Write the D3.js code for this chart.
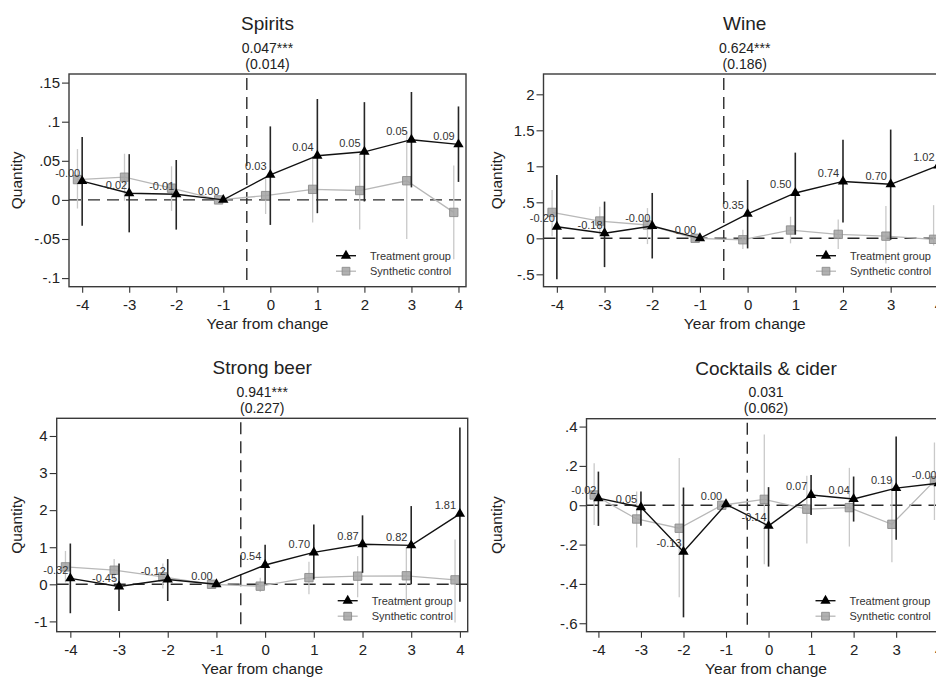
<!DOCTYPE html>
<html>
<head>
<meta charset="utf-8">
<script src="https://cdn.jsdelivr.net/npm/d3@7"></script>
<style>
  body { margin: 0; background: #fff; }
  svg { display: block; font-family: "Liberation Sans", Arial, Helvetica, sans-serif; }
</style>
</head>
<body>
<svg id="chart" width="936" height="677"></svg>
<script>
// Event-study estimates: treatment group vs synthetic control, by beverage type
const years = [-4, -3, -2, -1, 0, 1, 2, 3, 4];

const panelTitles = ["Spirits", "Wine", "Strong beer", "Cocktails & cider"];
const panelEstimates = ["0.047***", "0.624***", "0.941***", "0.031"];
const panelStdErrors = ["(0.014)", "(0.186)", "(0.227)", "(0.062)"];

// Spirits
const spiritsTreat   = [0.024, 0.0085, 0.0072, 0, 0.032, 0.0565, 0.0615, 0.077, 0.071];
const spiritsTreatLo = [-0.033, -0.0415, -0.038, 0, -0.032, -0.017, -0.002, 0.016, 0.023];
const spiritsTreatHi = [0.0805, 0.0585, 0.051, 0, 0.094, 0.129, 0.125, 0.138, 0.1195];
const spiritsSynth   = [0.026, 0.029, 0.015, 0, 0.0055, 0.0135, 0.012, 0.0245, -0.016];
const spiritsSynthLo = [-0.011, -0.001, -0.014, 0, -0.018, -0.029, -0.038, -0.05, -0.076];
const spiritsSynthHi = [0.065, 0.059, 0.043, 0, 0.029, 0.056, 0.062, 0.087, 0.044];
const spiritsLabels  = ["-0.00", "-0.02", "-0.01", "0.00", "0.03", "0.04", "0.05", "0.05", "0.09"];
const spiritsYTicks  = [-0.1, -0.05, 0, 0.05, 0.1, 0.15];
const spiritsYTickLabels = ["-.1", "-.05", "0", ".05", ".1", ".15"];

// Wine
const wineTreat   = [0.16, 0.07, 0.17, 0, 0.34, 0.63, 0.79, 0.75, 1.01];
const wineTreatLo = [-0.57, -0.40, -0.28, 0, -0.14, 0.05, 0.22, -0.02, 0.40];
const wineTreatHi = [0.88, 0.51, 0.63, 0, 0.81, 1.19, 1.37, 1.51, 1.62];
const wineSynth   = [0.36, 0.24, 0.185, 0, -0.02, 0.115, 0.055, 0.03, -0.014];
const wineSynthLo = [0.03, 0.04, -0.08, 0, -0.15, -0.07, -0.15, -0.35, -0.10];
const wineSynthHi = [0.67, 0.44, 0.42, 0, 0.12, 0.30, 0.26, 0.45, 0.46];
const wineLabels  = ["-0.20", "-0.18", "-0.00", "0.00", "0.35", "0.50", "0.74", "0.70", "1.02"];
const wineYTicks  = [-0.5, 0, 0.5, 1, 1.5, 2];
const wineYTickLabels = ["-.5", "0", ".5", "1", "1.5", "2"];

// Strong beer
const beerTreat   = [0.16, -0.06, 0.13, 0, 0.52, 0.86, 1.08, 1.05, 1.90];
const beerTreatLo = [-0.78, -0.72, -0.45, 0, 0.0, 0.13, 0.31, 0.0, -0.47];
const beerTreatHi = [1.10, 0.56, 0.68, 0, 1.07, 1.61, 1.86, 2.11, 4.23];
const beerSynth   = [0.47, 0.38, 0.20, 0, -0.05, 0.18, 0.22, 0.23, 0.12];
const beerSynthLo = [0.05, 0.08, -0.11, 0, -0.21, -0.27, -0.35, -0.58, -1.03];
const beerSynthHi = [0.90, 0.68, 0.56, 0, 0.18, 0.61, 0.76, 1.01, 1.21];
const beerLabels  = ["-0.32", "-0.45", "-0.12", "0.00", "0.54", "0.70", "0.87", "0.82", "1.81"];
const beerYTicks  = [-1, 0, 1, 2, 3, 4];
const beerYTickLabels = ["-1", "0", "1", "2", "3", "4"];

// Cocktails & cider
const cocktailTreat   = [0.036, -0.010, -0.236, 0.005, -0.105, 0.052, 0.032, 0.087, 0.112];
const cocktailTreatLo = [-0.105, -0.104, -0.57, 0.005, -0.312, -0.05, -0.083, -0.176, -0.05];
const cocktailTreatHi = [0.171, 0.07, 0.09, 0.005, 0.092, 0.154, 0.146, 0.35, 0.30];
const cocktailSynth   = [0.052, -0.07, -0.117, 0, 0.03, -0.02, -0.012, -0.097, 0.124];
const cocktailSynthLo = [-0.10, -0.215, -0.468, 0, -0.30, -0.195, -0.21, -0.29, -0.075];
const cocktailSynthHi = [0.214, 0.07, 0.24, 0, 0.36, 0.15, 0.19, 0.128, 0.319];
const cocktailLabels  = ["-0.02", "0.05", "-0.13", "0.00", "-0.14", "0.07", "0.04", "0.19", "-0.00"];
const cocktailYTicks  = [-0.6, -0.4, -0.2, 0, 0.2, 0.4];
const cocktailYTickLabels = ["-.6", "-.4", "-.2", "0", ".2", ".4"];

const legendLabels = ["Treatment group", "Synthetic control"];
const xAxisTitle = "Year from change";
const yAxisTitle = "Quantity";

// Panel layout (plot-region frames in page pixels)
const panels = [
  { i: 0, ox: 0,   frame: { l: 69,    r: 466,   t: 74,    b: 286.7 }, yDomain: [-0.111, 0.161],
    treat: spiritsTreat, tLo: spiritsTreatLo, tHi: spiritsTreatHi,
    synth: spiritsSynth, sLo: spiritsSynthLo, sHi: spiritsSynthHi,
    labels: spiritsLabels, yTicks: spiritsYTicks, yTickLabels: spiritsYTickLabels },
  { i: 1, ox: 480, frame: { l: 543.5, r: 946,   t: 74,    b: 286.7 }, yDomain: [-0.672, 2.282],
    treat: wineTreat, tLo: wineTreatLo, tHi: wineTreatHi,
    synth: wineSynth, sLo: wineSynthLo, sHi: wineSynthHi,
    labels: wineLabels, yTicks: wineYTicks, yTickLabels: wineYTickLabels },
  { i: 2, ox: 0,   frame: { l: 56.7,  r: 467.7, t: 418.3, b: 631.7 }, yDomain: [-1.278, 4.477],
    treat: beerTreat, tLo: beerTreatLo, tHi: beerTreatHi,
    synth: beerSynth, sLo: beerSynthLo, sHi: beerSynthHi,
    labels: beerLabels, yTicks: beerYTicks, yTickLabels: beerYTickLabels },
  { i: 3, ox: 480, frame: { l: 586.5, r: 945.5, t: 418.7, b: 631.7 }, yDomain: [-0.643, 0.440],
    treat: cocktailTreat, tLo: cocktailTreatLo, tHi: cocktailTreatHi,
    synth: cocktailSynth, sLo: cocktailSynthLo, sHi: cocktailSynthHi,
    labels: cocktailLabels, yTicks: cocktailYTicks, yTickLabels: cocktailYTickLabels }
];

const svg = d3.select("#chart");
const TEXT = "#222";
const SYNTH_SHIFT = -0.1;   // synthetic-control markers drawn slightly left of each year

panels.forEach(p => {
  const f = p.frame;
  const g = svg.append("g");
  const x = d3.scaleLinear().domain([-4.28, 4.16]).range([f.l, f.r]);
  const y = d3.scaleLinear().domain(p.yDomain).range([f.b, f.t]);
  const cx = (f.l + f.r) / 2;

  // titles
  g.append("text").attr("x", cx).attr("y", f.t - 44).attr("text-anchor", "middle")
    .attr("font-size", 19).attr("fill", TEXT).text(panelTitles[p.i]);
  g.append("text").attr("x", cx).attr("y", f.t - 21.5).attr("text-anchor", "middle")
    .attr("font-size", 14).attr("fill", TEXT).text(panelEstimates[p.i]);
  g.append("text").attr("x", cx).attr("y", f.t - 5.5).attr("text-anchor", "middle")
    .attr("font-size", 14).attr("fill", TEXT).text(panelStdErrors[p.i]);

  // axes
  const yAxis = d3.axisLeft(y).tickValues(p.yTicks)
    .tickFormat((d, k) => p.yTickLabels[k]).tickSize(7).tickPadding(2);
  const ya = g.append("g").attr("transform", `translate(${f.l},0)`).call(yAxis);
  ya.select(".domain").remove();
  ya.selectAll("line").attr("stroke", "#333").attr("stroke-width", 1.1);
  ya.selectAll("text").attr("font-size", 15).attr("fill", TEXT)
    .attr("font-family", "Liberation Sans, Arial, sans-serif");

  const xAxis = d3.axisBottom(x).tickValues(years).tickFormat(d => String(d))
    .tickSize(6).tickPadding(7);
  const xa = g.append("g").attr("transform", `translate(0,${f.b})`).call(xAxis);
  xa.select(".domain").remove();
  xa.selectAll("line").attr("stroke", "#333").attr("stroke-width", 1.1);
  xa.selectAll("text").attr("font-size", 15).attr("fill", TEXT)
    .attr("font-family", "Liberation Sans, Arial, sans-serif");

  g.append("text").attr("x", cx).attr("y", f.b + 42).attr("text-anchor", "middle")
    .attr("font-size", 15.5).attr("fill", TEXT).text(xAxisTitle);
  g.append("text")
    .attr("transform", `translate(${p.ox + 22},${(f.t + f.b) / 2}) rotate(-90)`)
    .attr("text-anchor", "middle").attr("font-size", 15.5).attr("fill", TEXT).text(yAxisTitle);

  // reference lines
  g.append("line").attr("x1", f.l).attr("x2", f.r).attr("y1", y(0)).attr("y2", y(0))
    .attr("stroke", "#2a2a2a").attr("stroke-width", 1.4).attr("stroke-dasharray", "12,7");
  g.append("line").attr("x1", x(-0.5)).attr("x2", x(-0.5)).attr("y1", f.t + 4).attr("y2", f.b)
    .attr("stroke", "#2a2a2a").attr("stroke-width", 1.4).attr("stroke-dasharray", "12,7");

  const idx = d3.range(years.length);

  // synthetic control: intervals, line, squares
  g.append("g").selectAll("line").data(idx.filter(k => p.sHi[k] !== p.sLo[k])).join("line")
    .attr("x1", k => x(years[k] + SYNTH_SHIFT)).attr("x2", k => x(years[k] + SYNTH_SHIFT))
    .attr("y1", k => y(p.sLo[k])).attr("y2", k => y(p.sHi[k]))
    .attr("stroke", "#c9c9c9").attr("stroke-width", 1.3);
  g.append("path").datum(idx)
    .attr("d", d3.line().x(k => x(years[k] + SYNTH_SHIFT)).y(k => y(p.synth[k])))
    .attr("fill", "none").attr("stroke", "#b8b8b8").attr("stroke-width", 1.3);
  g.append("g").selectAll("path").data(idx).join("path")
    .attr("transform", k => `translate(${x(years[k] + SYNTH_SHIFT)},${y(p.synth[k])})`)
    .attr("d", d3.symbol(d3.symbolSquare, 70))
    .attr("fill", "#a3a3a3").attr("fill-opacity", 0.85)
    .attr("stroke", "#8c8c8c").attr("stroke-width", 0.9);

  // treatment group: intervals, line, triangles
  g.append("g").selectAll("line").data(idx.filter(k => p.tHi[k] !== p.tLo[k])).join("line")
    .attr("x1", k => x(years[k])).attr("x2", k => x(years[k]))
    .attr("y1", k => y(p.tLo[k])).attr("y2", k => y(p.tHi[k]))
    .attr("stroke", "#262626").attr("stroke-width", 1.6);
  g.append("path").datum(idx)
    .attr("d", d3.line().x(k => x(years[k])).y(k => y(p.treat[k])))
    .attr("fill", "none").attr("stroke", "#111").attr("stroke-width", 1.4);
  g.append("g").selectAll("path").data(idx).join("path")
    .attr("transform", k => `translate(${x(years[k])},${y(p.treat[k])})`)
    .attr("d", d3.symbol(d3.symbolTriangle, 46))
    .attr("fill", "#000");

  // point labels (upper-left of each treatment marker)
  g.append("g").selectAll("text").data(idx).join("text")
    .attr("x", k => x(years[k]) - 14.5).attr("y", k => y(p.treat[k]) - 8.5)
    .attr("dy", "0.36em").attr("text-anchor", "middle")
    .attr("font-size", 11).attr("fill", "#333").text(k => p.labels[k]);

  // legend
  const lx = f.r - 120, tx = f.r - 96;
  const ly = [f.b - 31, f.b - 15.5];
  g.append("line").attr("x1", lx - 10).attr("x2", lx + 10).attr("y1", ly[0]).attr("y2", ly[0])
    .attr("stroke", "#111").attr("stroke-width", 1.4);
  g.append("path").attr("transform", `translate(${lx},${ly[0]})`)
    .attr("d", d3.symbol(d3.symbolTriangle, 46)).attr("fill", "#000");
  g.append("line").attr("x1", lx - 10).attr("x2", lx + 10).attr("y1", ly[1]).attr("y2", ly[1])
    .attr("stroke", "#b8b8b8").attr("stroke-width", 1.3);
  g.append("path").attr("transform", `translate(${lx},${ly[1]})`)
    .attr("d", d3.symbol(d3.symbolSquare, 60))
    .attr("fill", "#a3a3a3").attr("fill-opacity", 0.85)
    .attr("stroke", "#8c8c8c").attr("stroke-width", 0.9);
  legendLabels.forEach((t, k) => {
    g.append("text").attr("x", tx).attr("y", ly[k]).attr("dy", "0.36em")
      .attr("font-size", 11).attr("fill", "#333").text(t);
  });

  // plot-region frame
  g.append("rect").attr("x", f.l).attr("y", f.t).attr("width", f.r - f.l).attr("height", f.b - f.t)
    .attr("fill", "none").attr("stroke", "#3a3a3a").attr("stroke-width", 1.4);
});
</script>
</body>
</html>
